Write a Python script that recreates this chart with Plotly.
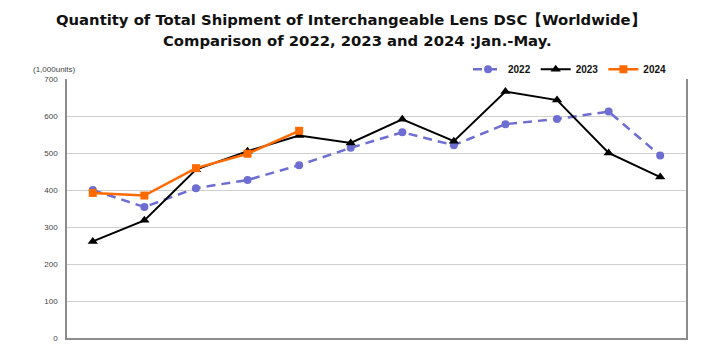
import plotly.graph_objects as go

months = ["Jan.", "Feb.", "Mar.", "Apr.", "May", "Jun.", "Jul.", "Aug.", "Sep.", "Oct.", "Nov.", "Dec."]
s2022 = [400, 354, 405, 427, 467, 514, 556, 521, 578, 592, 612, 493]
s2023 = [261, 318, 455, 505, 547, 527, 591, 532, 666, 643, 500, 435]
s2024 = [392, 385, 459, 498, 560]
y_ticks = [0, 100, 200, 300, 400, 500, 600, 700]
title_lines = ["Quantity of Total Shipment of Interchangeable Lens DSC【Worldwide】",
               "Comparison of 2022, 2023 and 2024 :Jan.-May."]

PLOT_H = 353 - 79 - 10

fig = go.Figure()
fig.add_trace(go.Scatter(
    x=months, y=s2022, name="2022", mode="lines+markers",
    line=dict(color="#6E6ED2", width=2.5, dash="9px,6px"),
    marker=dict(symbol="circle", size=8, color="#6E6ED2")))
fig.add_trace(go.Scatter(
    x=months, y=s2023, name="2023", mode="lines+markers",
    line=dict(color="#000000", width=2),
    marker=dict(symbol="triangle-up", size=9, color="#000000")))
fig.add_trace(go.Scatter(
    x=months[:len(s2024)], y=s2024, name="2024", mode="lines+markers",
    line=dict(color="#FF6A00", width=2.5),
    marker=dict(symbol="square", size=8, color="#FF6A00")))

fig.update_layout(
    width=728, height=353,
    margin=dict(l=67, r=42, t=79, b=10),
    paper_bgcolor="white", plot_bgcolor="white",
    font=dict(family="Liberation Sans, Arial, sans-serif", color="#333333"),
    legend=dict(orientation="h", x=1 - 14 / 619, xanchor="right", y=1 + 10 / PLOT_H, yanchor="middle",
                font=dict(size=10, color="#111111", weight="bold"),
                itemwidth=30, bgcolor="rgba(0,0,0,0)"),
    showlegend=True,
)
for txt, xpix, ypix in zip(title_lines, [351, 357], [18.5, 39.5]):
    fig.add_annotation(text=txt, xref="paper", yref="paper",
                       x=(xpix - 67) / 619, y=1 + (79 - ypix) / PLOT_H,
                       xanchor="center", yanchor="middle", showarrow=False,
                       font=dict(family="DejaVu Sans, Verdana, sans-serif", size=14.8,
                                 color="#111111", weight="bold"))
fig.update_xaxes(type="category", range=[-0.5, 11.5], showticklabels=False, ticks="",
                 showgrid=False, showline=True, linecolor="#8C8C8C", linewidth=1.5, mirror=False)
fig.update_yaxes(range=[0, 700], tickvals=y_ticks, ticktext=[str(v) for v in y_ticks],
                 tickfont=dict(size=8, color="#444444"), ticks="", ticklabelstandoff=6,
                 showgrid=True, gridcolor="#CFCFCF", gridwidth=1,
                 showline=True, linecolor="#8C8C8C", linewidth=1.5, mirror=True, zeroline=False)
fig.add_annotation(text="(1,000units)", xref="paper", yref="paper", x=(54 - 67) / 619,
                   y=1 + (79 - 69) / PLOT_H,
                   xanchor="center", yanchor="middle", showarrow=False,
                   font=dict(size=8, color="#444444"))

fig.write_html("out.html")
